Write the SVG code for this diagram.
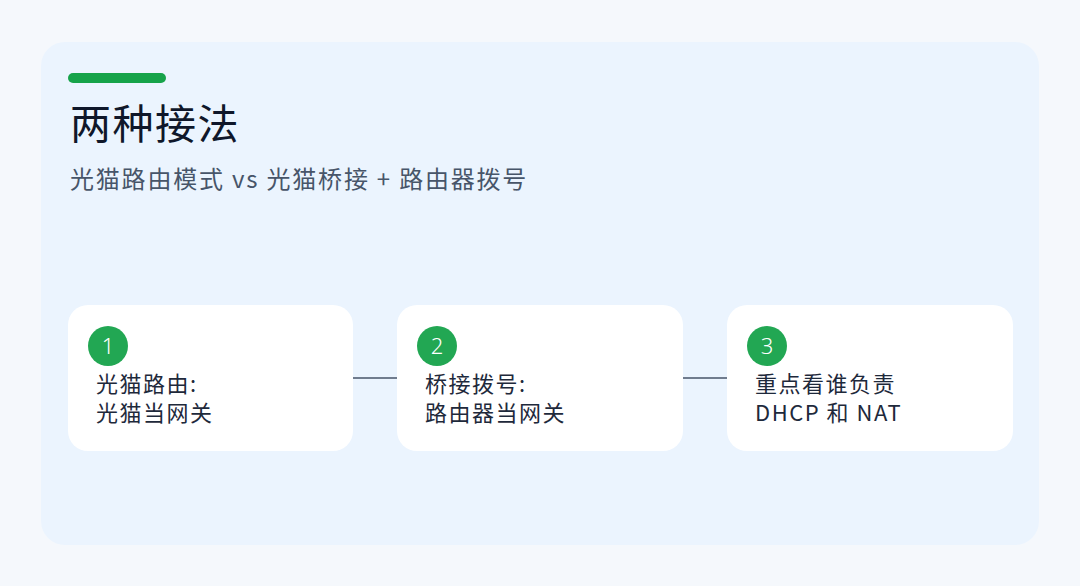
<svg xmlns="http://www.w3.org/2000/svg" width="1080" height="586" viewBox="0 0 1080 586">
<style>
.cjk{font-family:"Noto Sans CJK SC","Noto Sans",sans-serif}
.card{fill:#ffffff}
.badge{fill:#22a753}
.num{font-family:"Noto Sans","Noto Sans CJK SC",sans-serif;font-size:22px;fill:#ffffff;text-anchor:middle;font-weight:300}
.lbl{font-family:"Noto Sans CJK SC","Noto Sans",sans-serif;font-size:22px;letter-spacing:1.5px;fill:#1e293b}
.conn{stroke:#475569;stroke-width:1.3;fill:none}
</style>
<rect width="1080" height="586" fill="#f5f8fc"/>
<rect x="41" y="42" width="998" height="503" rx="24" fill="#ebf4fe"/>
<rect x="68" y="73" width="98" height="10" rx="5" fill="#16a34a"/>
<text x="70" y="139" class="cjk" font-size="41" letter-spacing="1.5" fill="#0f172a">两种接法</text>
<text x="70" y="188" class="cjk" font-size="24" letter-spacing="1.8" fill="#475569">光猫路由模式 vs 光猫桥接 + 路由器拨号</text>
<g id="connectors">
<line class="conn" x1="353" y1="378" x2="397" y2="378"/>
<line class="conn" x1="683" y1="378" x2="727" y2="378"/>
</g>
<g id="node1">
<rect class="card" x="68" y="305" width="285" height="146" rx="20"/>
<circle class="badge" cx="108" cy="346" r="20"/>
<text class="num" x="108" y="354">1</text>
<text class="lbl" x="96" y="392">光猫路由:</text>
<text class="lbl" x="96" y="421">光猫当网关</text>
</g>
<g id="node2">
<rect class="card" x="397" y="305" width="286" height="146" rx="20"/>
<circle class="badge" cx="437" cy="346" r="20"/>
<text class="num" x="437" y="354">2</text>
<text class="lbl" x="425" y="392">桥接拨号:</text>
<text class="lbl" x="425" y="421">路由器当网关</text>
</g>
<g id="node3">
<rect class="card" x="727" y="305" width="286" height="146" rx="20"/>
<circle class="badge" cx="767" cy="346" r="20"/>
<text class="num" x="767" y="354">3</text>
<text class="lbl" x="755" y="392">重点看谁负责</text>
<text class="lbl" x="755" y="421">DHCP 和 NAT</text>
</g>
</svg>
